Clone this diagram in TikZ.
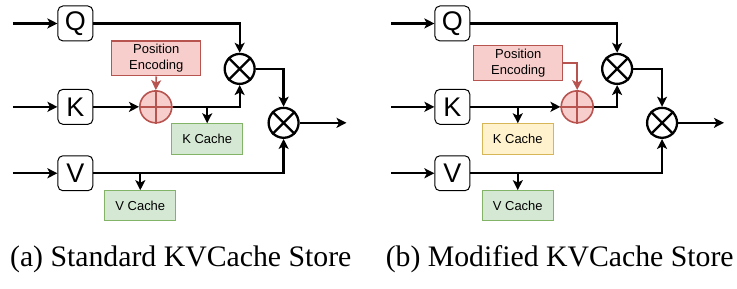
\documentclass[tikz,border=0pt]{standalone}
\usepackage{fontspec}
\setmainfont{Liberation Serif}
\setsansfont{Liberation Sans}
\usetikzlibrary{arrows.meta}
\definecolor{kvRedFill}{HTML}{F8CECC}
\definecolor{kvRedLine}{HTML}{B85450}
\definecolor{kvGreenFill}{HTML}{D5E8D4}
\definecolor{kvGreenLine}{HTML}{82B366}
\definecolor{kvYellowFill}{HTML}{FFF2CC}
\definecolor{kvYellowLine}{HTML}{D6B656}
\begin{document}
\begin{tikzpicture}[x=1pt,y=-1pt,>={Stealth[length=10pt,width=10pt,inset=2.5pt]},line cap=butt,line join=miter]
\path[fill=white] (0,0) rectangle (737,289);
\tikzset{letterbox/.style={draw=black,fill=white,line width=1pt,rounded corners=5pt,minimum width=35pt,minimum height=35pt,inner sep=0pt,font=\sffamily\fontsize{27}{27}\selectfont},
  pebox/.style={draw=kvRedLine,fill=kvRedFill,line width=1.2pt,minimum width=89pt,minimum height=35pt,inner sep=0pt,align=center,font=\sffamily\fontsize{13}{16}\selectfont},
  cachebox/.style={draw=kvGreenLine,fill=kvGreenFill,line width=1.2pt,minimum width=71pt,minimum height=31pt,inner sep=0pt,font=\sffamily\fontsize{13}{15}\selectfont},
  yellowcache/.style={cachebox,draw=kvYellowLine,fill=kvYellowFill},
  mulnode/.style={circle,draw=black,fill=white,line width=2.3pt,minimum size=30pt,inner sep=0pt},
  addnode/.style={circle,draw=kvRedLine,fill=kvRedFill,line width=1.6pt,minimum size=32pt,inner sep=0pt},
  flow/.style={draw=black,line width=2.3pt,->},
  peflow/.style={draw=kvRedLine,line width=1.6pt,->},
  pethick/.style={draw=kvRedLine,line width=2.3pt,->},
  caption/.style={anchor=base,font=\rmfamily\fontsize{29.8}{32}\selectfont}}
% (a) standard store
\coordinate (qina) at (13,23.5); \coordinate (kina) at (13,107); \coordinate (vina) at (13,173.5);
\node[letterbox] (qa) at (75.5,23.5) {Q};
\node[letterbox] (ka) at (75.5,107) {K};
\node[letterbox] (va) at (75.5,173.5) {V};
\node[pebox] (pea) at (156.5,58.5) {Position\\Encoding};
\node[addnode] (adda) at (156,107) {};
\node[mulnode] (mqa) at (240,69) {};
\node[mulnode] (mva) at (284,123) {};
\node[cachebox] (kca) at (207.5,139.5) {K Cache};
\node[cachebox,minimum height=30pt] (vca) at (140.5,206) {V Cache};
\coordinate (outa) at (347,123);
\draw[kvRedLine,line width=1.6pt] (adda.north) -- (adda.south) (adda.west) -- (adda.east);
\draw[line width=2.3pt] (mqa.45) -- (mqa.225) (mqa.135) -- (mqa.315);
\draw[line width=2.3pt] (mva.45) -- (mva.225) (mva.135) -- (mva.315);
\draw[flow] (qina) -- (qa); \draw[flow] (kina) -- (ka); \draw[flow] (vina) -- (va);
\draw[flow] (qa.east) -| (mqa.north);
\draw[flow] (ka.east) -- (adda.west);
\draw[peflow] (pea.south) -- (adda.north);
\draw[flow] (adda.east) -| (mqa.south);
\draw[flow] (kca.north |- adda.east) -- (kca.north);
\draw[flow] (mqa.east) -| (mva.north);
\draw[flow] (va.east) -| (mva.south);
\draw[flow] (vca.north |- va.east) -- (vca.north);
\draw[flow] (mva.east) -- (outa);
% (b) modified store
\coordinate (qinb) at (392,23.5); \coordinate (kinb) at (392,107); \coordinate (vinb) at (392,173.5);
\node[letterbox] (qb) at (453,23.5) {Q};
\node[letterbox] (kb) at (453,107) {K};
\node[letterbox] (vb) at (453,173.5) {V};
\node[pebox] (peb) at (519,63) {Position\\Encoding};
\node[addnode] (addb) at (578,107) {};
\node[mulnode] (mqb) at (618,69) {};
\node[mulnode] (mvb) at (663,123) {};
\node[yellowcache] (kcb) at (518.5,139.5) {K Cache};
\node[cachebox,minimum height=30pt] (vcb) at (518.5,206) {V Cache};
\coordinate (outb) at (725,123);
\draw[kvRedLine,line width=1.6pt] (addb.north) -- (addb.south) (addb.west) -- (addb.east);
\draw[line width=2.3pt] (mqb.45) -- (mqb.225) (mqb.135) -- (mqb.315);
\draw[line width=2.3pt] (mvb.45) -- (mvb.225) (mvb.135) -- (mvb.315);
\draw[flow] (qinb) -- (qb); \draw[flow] (kinb) -- (kb); \draw[flow] (vinb) -- (vb);
\draw[flow] (qb.east) -| (mqb.north);
\draw[flow] (kb.east) -- (addb.west);
\draw[pethick] (peb.east) -| (addb.north);
\draw[flow] (addb.east) -| (mqb.south);
\draw[flow] (kcb.north |- kb.east) -- (kcb.north);
\draw[flow] (mqb.east) -| (mvb.north);
\draw[flow] (vb.east) -| (mvb.south);
\draw[flow] (vcb.north |- vb.east) -- (vcb.north);
\draw[flow] (mvb.east) -- (outb);
% captions
\node[caption] (capa) at (181,267) {(a) Standard KVCache Store};
\node[caption] (capb) at (560.5,267) {(b) Modified KVCache Store};
\end{tikzpicture}
\end{document}
